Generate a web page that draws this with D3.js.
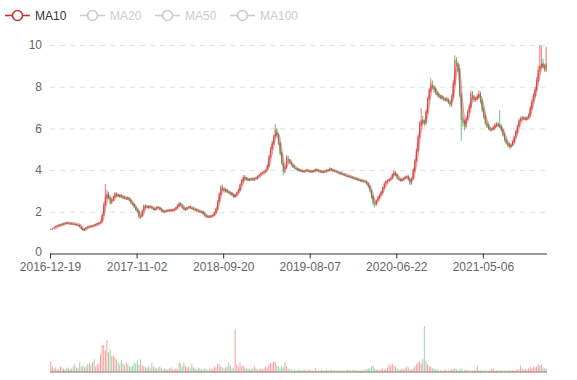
<!DOCTYPE html>
<html><head><meta charset="utf-8">
<script src="https://cdn.jsdelivr.net/npm/d3@7/dist/d3.min.js"></script>
<style>
body{margin:0;background:#fff}
svg{display:block}
text{font-family:"Liberation Sans",Arial,sans-serif}
</style>
</head><body>
<svg id="chart" width="577" height="380"></svg>
<script>
// ---- data (each candle ≈ 4 trading days) ----
const tickLabels = ["2016-12-19","2017-11-02","2018-09-20","2019-08-07","2020-06-22","2021-05-06"];
const yTicks = [0, 2, 4, 6, 8, 10];
const legendNames = ["MA10", "MA20", "MA50", "MA100"];

const opens = [
1.15,1.18,1.22,1.31,1.30,1.37,1.35,1.41,1.40,1.47,
1.45,1.47,1.43,1.44,1.43,1.39,1.40,1.35,1.37,1.27,
1.19,1.11,1.20,1.29,1.27,1.32,1.29,1.37,1.35,1.41,
1.43,1.48,1.52,1.88,2.40,2.70,2.92,2.68,2.40,2.58,
2.72,2.90,2.82,2.72,2.80,2.68,2.72,2.62,2.68,2.66,
2.56,2.40,2.36,2.22,2.12,2.02,1.70,1.78,2.08,2.32,
2.24,2.18,2.28,2.22,2.17,2.08,2.16,2.24,2.18,2.12,
2.06,1.98,2.04,2.05,2.09,2.04,2.12,2.06,2.13,2.19,
2.28,2.42,2.30,2.20,2.08,2.14,2.22,2.26,2.18,2.17,
2.10,2.12,2.06,2.03,1.98,2.01,1.92,1.82,1.74,1.79,
1.75,1.82,1.84,1.97,2.14,2.50,2.82,3.22,3.08,2.98,
3.06,2.96,2.86,2.90,2.82,2.70,2.82,2.94,3.02,3.32,
3.48,3.70,3.62,3.56,3.50,3.60,3.59,3.53,3.64,3.60,
3.72,3.80,3.86,3.90,3.94,4.02,4.18,4.66,5.02,5.28,
5.62,5.95,5.72,5.30,4.82,4.30,3.90,4.12,4.62,4.46,
4.36,4.22,4.17,4.08,4.07,3.99,4.00,3.96,3.92,3.97,
4.02,3.96,3.95,3.91,3.96,3.97,4.04,3.99,3.95,3.93,
3.89,3.94,3.95,4.01,3.99,4.06,4.01,3.96,3.96,3.93,
3.86,3.87,3.81,3.82,3.75,3.70,3.73,3.67,3.67,3.62,
3.61,3.57,3.56,3.49,3.51,3.47,3.47,3.43,3.36,3.22,
3.02,2.75,2.38,2.33,2.58,2.68,2.82,2.92,3.18,3.38,
3.48,3.52,3.58,3.62,3.78,3.92,3.78,3.58,3.57,3.48,
3.57,3.62,3.66,3.72,3.56,3.34,3.62,3.98,4.48,4.94,
5.62,6.20,6.44,6.34,6.22,6.78,7.42,7.82,8.20,7.98,
7.86,7.68,7.64,7.48,7.54,7.43,7.36,7.42,7.38,7.22,
7.10,7.52,8.14,9.30,9.06,8.82,7.62,6.36,6.34,6.06,
6.48,6.82,7.02,7.72,7.48,7.34,7.42,7.52,7.70,7.32,
6.90,6.58,6.20,6.14,5.98,5.90,5.97,6.02,6.18,6.24,
6.10,6.10,5.92,5.72,5.46,5.28,5.22,5.10,5.22,5.33,
5.62,5.82,6.12,6.38,6.52,6.46,6.50,6.42,6.52,6.62,
6.98,7.34,7.56,7.86,8.28,8.84,8.96,9.16,8.92,8.78
];
const closes = [
1.17,1.20,1.25,1.30,1.33,1.36,1.38,1.40,1.44,1.46,
1.47,1.45,1.44,1.43,1.41,1.40,1.38,1.36,1.28,1.18,
1.12,1.18,1.24,1.28,1.30,1.30,1.33,1.36,1.40,1.44,
1.47,1.50,1.85,2.35,2.72,2.88,2.70,2.41,2.55,2.70,
2.88,2.80,2.75,2.78,2.72,2.70,2.66,2.64,2.64,2.55,
2.41,2.35,2.24,2.10,2.00,1.72,1.76,2.05,2.30,2.25,
2.20,2.26,2.24,2.18,2.10,2.15,2.22,2.20,2.10,2.05,
2.00,2.02,2.06,2.08,2.06,2.10,2.08,2.12,2.20,2.30,
2.40,2.32,2.18,2.10,2.15,2.20,2.24,2.20,2.16,2.12,
2.10,2.05,2.02,2.00,2.00,1.90,1.80,1.76,1.78,1.76,
1.80,1.85,1.95,2.15,2.48,2.85,3.20,3.10,3.00,3.04,
2.95,2.90,2.88,2.80,2.72,2.80,2.92,3.04,3.30,3.50,
3.68,3.60,3.55,3.52,3.56,3.58,3.55,3.60,3.62,3.70,
3.78,3.84,3.88,3.92,4.00,4.20,4.64,5.00,5.30,5.60,
5.92,5.70,5.28,4.80,4.32,3.92,4.10,4.60,4.48,4.35,
4.24,4.15,4.10,4.05,4.00,3.98,3.95,3.93,3.96,4.00,
3.97,3.94,3.92,3.95,3.98,4.02,3.98,3.94,3.92,3.90,
3.93,3.96,3.98,4.00,4.04,4.00,3.97,3.95,3.92,3.88,
3.85,3.82,3.80,3.76,3.74,3.72,3.68,3.66,3.63,3.60,
3.58,3.55,3.52,3.50,3.48,3.46,3.44,3.35,3.20,3.04,
2.70,2.40,2.35,2.55,2.70,2.80,2.95,3.15,3.36,3.45,
3.50,3.55,3.60,3.80,3.90,3.75,3.60,3.55,3.50,3.55,
3.60,3.65,3.70,3.55,3.36,3.60,4.00,4.45,4.96,5.60,
6.24,6.40,6.30,6.24,6.80,7.40,7.84,8.16,8.00,7.84,
7.70,7.60,7.52,7.50,7.45,7.40,7.38,7.36,7.25,7.12,
7.50,8.16,9.28,9.10,8.80,7.60,6.40,6.30,6.08,6.50,
6.80,7.04,7.68,7.50,7.36,7.40,7.55,7.68,7.30,6.88,
6.55,6.24,6.10,6.00,5.92,5.95,6.05,6.16,6.20,6.12,
6.08,5.90,5.70,5.44,5.30,5.20,5.12,5.20,5.35,5.60,
5.85,6.10,6.40,6.45,6.50,6.48,6.45,6.50,6.60,7.00,
7.30,7.60,7.84,8.30,8.80,9.00,9.12,8.95,8.80,9.12
];
const lows = [
1.13,1.16,1.20,1.27,1.28,1.33,1.33,1.37,1.38,1.43,
1.42,1.42,1.40,1.40,1.38,1.36,1.35,1.32,1.24,1.14,
1.08,1.09,1.17,1.24,1.25,1.27,1.27,1.33,1.32,1.38,
1.40,1.45,1.48,1.82,2.30,2.62,2.60,2.34,2.36,2.52,
2.66,2.74,2.70,2.66,2.66,2.62,2.60,2.56,2.58,2.50,
2.36,2.30,2.18,2.04,1.95,1.68,1.66,1.74,2.02,2.18,
2.16,2.14,2.18,2.14,2.06,2.04,2.12,2.16,2.06,2.00,
1.96,1.95,2.00,2.02,2.02,2.02,2.04,2.04,2.10,2.16,
2.24,2.28,2.14,2.06,2.04,2.10,2.18,2.16,2.12,2.08,
2.05,2.00,1.98,1.96,1.94,1.86,1.76,1.72,1.71,1.72,
1.72,1.78,1.82,1.94,2.10,2.45,2.78,3.02,2.92,2.92,
2.90,2.84,2.80,2.74,2.66,2.66,2.78,2.90,3.00,3.28,
3.42,3.54,3.50,3.46,3.46,3.52,3.50,3.48,3.58,3.56,
3.68,3.76,3.82,3.86,3.90,3.98,4.14,4.60,4.96,5.22,
5.56,5.62,5.20,4.72,4.26,3.76,3.84,4.06,4.40,4.30,
4.18,4.10,4.06,4.00,3.95,3.94,3.91,3.89,3.89,3.94,
3.93,3.90,3.88,3.88,3.92,3.94,3.95,3.90,3.88,3.86,
3.86,3.90,3.92,3.96,3.96,3.96,3.93,3.91,3.88,3.84,
3.80,3.78,3.76,3.72,3.70,3.66,3.64,3.62,3.58,3.56,
3.54,3.51,3.48,3.45,3.44,3.42,3.40,3.30,3.14,2.96,
2.62,2.30,2.20,2.28,2.52,2.64,2.78,2.88,3.12,3.32,
3.42,3.48,3.54,3.58,3.74,3.70,3.54,3.50,3.44,3.44,
3.52,3.58,3.62,3.50,3.28,3.30,3.56,3.92,4.40,4.88,
5.55,6.10,6.20,6.10,6.16,6.70,7.35,7.75,7.92,7.70,
7.60,7.52,7.44,7.40,7.38,7.30,7.28,7.28,7.18,7.02,
7.04,7.44,8.06,8.98,8.70,7.50,5.40,6.10,5.90,5.98,
6.40,6.74,6.96,7.40,7.26,7.28,7.36,7.46,7.20,6.78,
6.46,6.16,6.02,5.92,5.84,5.86,5.92,5.98,6.10,6.06,
6.00,5.84,5.62,5.36,5.22,5.10,5.00,5.04,5.16,5.28,
5.56,5.76,6.06,6.32,6.42,6.38,6.36,6.38,6.46,6.56,
6.90,7.24,7.50,7.80,8.22,8.70,8.90,8.84,8.70,8.70
];
const highs = [
1.20,1.23,1.28,1.34,1.36,1.40,1.41,1.44,1.47,1.50,
1.50,1.49,1.46,1.46,1.45,1.42,1.42,1.38,1.38,1.30,
1.21,1.21,1.27,1.32,1.33,1.35,1.36,1.40,1.42,1.47,
1.50,1.54,1.90,2.45,3.33,3.05,2.96,2.72,2.62,2.76,
2.95,2.94,2.86,2.82,2.84,2.74,2.76,2.68,2.72,2.70,
2.60,2.44,2.40,2.26,2.16,2.06,1.82,2.10,2.36,2.36,
2.28,2.30,2.32,2.26,2.20,2.18,2.26,2.28,2.22,2.15,
2.09,2.05,2.09,2.11,2.12,2.13,2.14,2.15,2.24,2.36,
2.48,2.46,2.33,2.23,2.18,2.24,2.28,2.30,2.22,2.20,
2.14,2.14,2.09,2.06,2.03,2.04,1.95,1.85,1.82,1.82,
1.84,1.88,1.99,2.20,2.55,2.92,3.28,3.30,3.12,3.10,
3.10,3.00,2.94,2.94,2.86,2.84,2.96,3.08,3.36,3.56,
3.76,3.76,3.66,3.60,3.60,3.64,3.63,3.64,3.68,3.75,
3.82,3.88,3.92,3.96,4.04,4.26,4.72,5.12,5.40,5.70,
6.20,6.02,5.80,5.36,4.88,4.36,4.18,4.72,4.70,4.52,
4.40,4.28,4.22,4.12,4.10,4.04,4.04,4.00,3.99,4.03,
4.06,4.00,3.98,3.99,4.02,4.08,4.08,4.02,3.98,3.96,
3.96,3.99,4.02,4.05,4.14,4.10,4.04,4.00,3.98,3.95,
3.90,3.90,3.85,3.84,3.79,3.75,3.76,3.71,3.70,3.66,
3.65,3.62,3.60,3.55,3.55,3.52,3.50,3.48,3.40,3.26,
3.06,2.80,2.45,2.60,2.76,2.86,3.00,3.20,3.42,3.52,
3.56,3.60,3.66,3.86,4.00,3.96,3.82,3.64,3.60,3.62,
3.65,3.70,3.78,3.78,3.60,3.64,4.08,4.52,5.05,5.70,
6.35,6.97,6.60,6.40,6.90,7.50,7.95,8.40,8.30,8.06,
7.95,7.78,7.70,7.60,7.62,7.52,7.46,7.50,7.45,7.30,
7.62,8.30,9.50,9.42,9.20,8.90,7.70,6.50,6.40,6.62,
6.90,7.15,7.80,7.80,7.58,7.50,7.65,7.82,7.78,7.40,
6.98,6.68,6.30,6.22,6.06,6.02,6.12,6.26,6.30,6.30,
6.88,6.20,5.98,5.78,5.52,5.36,5.30,5.28,5.42,5.66,
5.92,6.18,6.48,6.56,6.62,6.58,6.56,6.58,6.70,7.10,
7.40,7.70,7.98,8.45,9.00,10.0,9.95,9.35,9.10,9.90
];
const volumes = [
110,60,40,50,30,40,60,50,40,30,
50,40,30,40,60,80,50,40,100,60,
70,50,60,80,90,70,100,130,60,80,
90,180,270,270,220,320,200,230,160,170,
150,130,100,80,120,90,70,100,80,60,
60,70,100,90,120,80,130,70,60,50,
50,60,40,100,60,50,40,50,60,40,
30,40,30,30,40,50,30,30,40,30,
100,90,60,100,70,50,60,40,90,50,
40,30,50,40,30,30,40,30,20,30,
40,30,60,50,90,80,60,50,40,50,
60,100,70,40,50,430,80,60,100,60,
70,50,40,40,30,30,40,60,40,30,
30,40,30,40,60,50,80,100,90,110,
100,70,60,40,60,50,100,60,40,30,
30,20,30,20,20,30,20,20,30,20,
20,30,20,20,20,40,20,20,20,30,
20,20,30,20,20,30,20,20,20,20,
20,20,20,20,20,30,20,20,20,30,
20,20,20,20,20,20,30,30,40,40,
60,70,40,30,30,20,30,40,30,30,
50,80,70,90,70,60,40,30,30,40,
30,40,60,50,30,30,40,60,80,100,
110,90,130,460,110,80,60,60,40,40,
30,30,20,20,20,20,30,20,20,20,
30,30,40,30,20,30,40,20,20,30,
20,20,20,20,20,20,70,20,20,20,
20,20,20,20,20,30,40,20,20,20,
20,20,20,20,20,20,20,20,20,20,
20,30,30,70,40,30,30,30,40,60,
40,60,50,60,80,70,80,50,40,40
];

// ---- config ----
const upColor = "#eb5454", downColor = "#47b262", maColor = "#c23531";
const labelEvery = 54;   // candles between axis labels
const maWindow = 3;      // 3 candles ≈ 10 trading days

(function draw() {
  const N = closes.length;
  const svg = d3.select("#chart");
  const pLeft = 50, pRight = 547, pTop = 45, pBottom = 253.5;
  const volTop = 322, volBottom = 372.5;

  const x = d3.scaleLinear().domain([0, N]).range([pLeft, pRight]);
  const y = d3.scaleLinear().domain([0, 10]).range([pBottom, pTop]);
  const yv = d3.scaleLinear().domain([0, 500]).range([volBottom, volTop]);
  const step = x(1) - x(0);
  const bw = Math.max(0.8, step * 0.62);

  // grid lines
  const gridAxis = d3.axisLeft(y).tickValues(yTicks).tickSize(-(pRight - pLeft)).tickFormat("");
  const gg = svg.append("g").attr("transform", `translate(${pLeft},0)`).call(gridAxis);
  gg.select(".domain").remove();
  gg.selectAll("line").attr("stroke", "#e0e0e0").attr("stroke-dasharray", "5,5");
  gg.selectAll(".tick").filter(d => d === 0).remove();

  // y labels
  const yAxis = d3.axisLeft(y).tickValues(yTicks).tickSize(0).tickPadding(8);
  const yg = svg.append("g").attr("transform", `translate(${pLeft},0)`).call(yAxis);
  yg.select(".domain").remove();
  yg.selectAll("text").attr("fill", "#666").attr("font-size", 12)
    .attr("font-family", '"Liberation Sans",Arial,sans-serif');
  yg.selectAll(".tick").filter(d => d === 0).select("text").attr("dy", "0.15em");

  const cand = d3.range(N).map(i => ({i, o: opens[i], c: closes[i], l: lows[i], h: highs[i], v: volumes[i], up: closes[i] >= opens[i]}));

  // volume bars
  svg.append("g").selectAll("rect").data(cand).join("rect")
    .attr("x", d => x(d.i + 0.5) - bw / 2)
    .attr("width", bw)
    .attr("y", d => yv(d.v))
    .attr("height", d => volBottom - yv(d.v))
    .attr("fill", d => d.up ? upColor : downColor)
    .attr("fill-opacity", 0.55);
  svg.append("line").attr("x1", pLeft).attr("x2", pRight)
    .attr("y1", volBottom - 0.5).attr("y2", volBottom - 0.5)
    .attr("stroke", "#8a6a5a").attr("stroke-opacity", 0.8);

  // candles
  const cg = svg.append("g");
  cg.selectAll("line").data(cand).join("line")
    .attr("x1", d => x(d.i + 0.5)).attr("x2", d => x(d.i + 0.5))
    .attr("y1", d => y(d.h)).attr("y2", d => y(d.l))
    .attr("stroke", d => d.up ? upColor : downColor)
    .attr("stroke-width", 0.8);
  cg.selectAll("rect").data(cand).join("rect")
    .attr("x", d => x(d.i + 0.5) - bw / 2)
    .attr("width", bw)
    .attr("y", d => y(Math.max(d.o, d.c)))
    .attr("height", d => Math.max(1, Math.abs(y(d.o) - y(d.c))))
    .attr("fill", d => d.up ? upColor : downColor);

  // MA line
  const ma = [];
  for (let i = maWindow - 1; i < N; i++) {
    ma.push({i, v: d3.mean(closes.slice(i - maWindow + 1, i + 1))});
  }
  svg.append("path").datum(ma)
    .attr("fill", "none").attr("stroke", maColor).attr("stroke-width", 3)
    .attr("stroke-opacity", 0.45).attr("stroke-linejoin", "round")
    .attr("d", d3.line().x(d => x(d.i + 0.5)).y(d => y(d.v)).curve(d3.curveMonotoneX));

  // x axis
  const xAxis = d3.axisBottom(x)
    .tickValues(tickLabels.map((t, k) => k * labelEvery))
    .tickFormat(d => tickLabels[d / labelEvery])
    .tickSize(5).tickSizeOuter(0).tickPadding(4);
  const xg = svg.append("g").attr("transform", `translate(0,${pBottom})`).call(xAxis);
  xg.select(".domain").attr("stroke", "#333").attr("d", `M${pLeft},0.5H${pRight}`);
  xg.selectAll("line").attr("stroke", "#333");
  xg.selectAll("text").attr("fill", "#666").attr("font-size", 12)
    .attr("font-family", '"Liberation Sans",Arial,sans-serif');

  // legend
  const lg = svg.append("g");
  legendNames.forEach((name, k) => {
    const gx = 5 + k * 75, cy = 15.5;
    const col = k === 0 ? maColor : "#ccc";
    const g = lg.append("g").attr("transform", `translate(${gx},0)`);
    g.append("line").attr("x1", 0).attr("x2", 25).attr("y1", cy).attr("y2", cy)
      .attr("stroke", col).attr("stroke-width", 1.6);
    g.append("circle").attr("cx", 12.5).attr("cy", cy).attr("r", 5)
      .attr("fill", "#fff").attr("stroke", col).attr("stroke-width", 1.6);
    g.append("text").attr("x", 30).attr("y", cy).attr("dy", "0.35em")
      .attr("font-size", 12).attr("fill", k === 0 ? "#333" : "#ccc").text(name);
  });
})();
</script>
</body></html>
